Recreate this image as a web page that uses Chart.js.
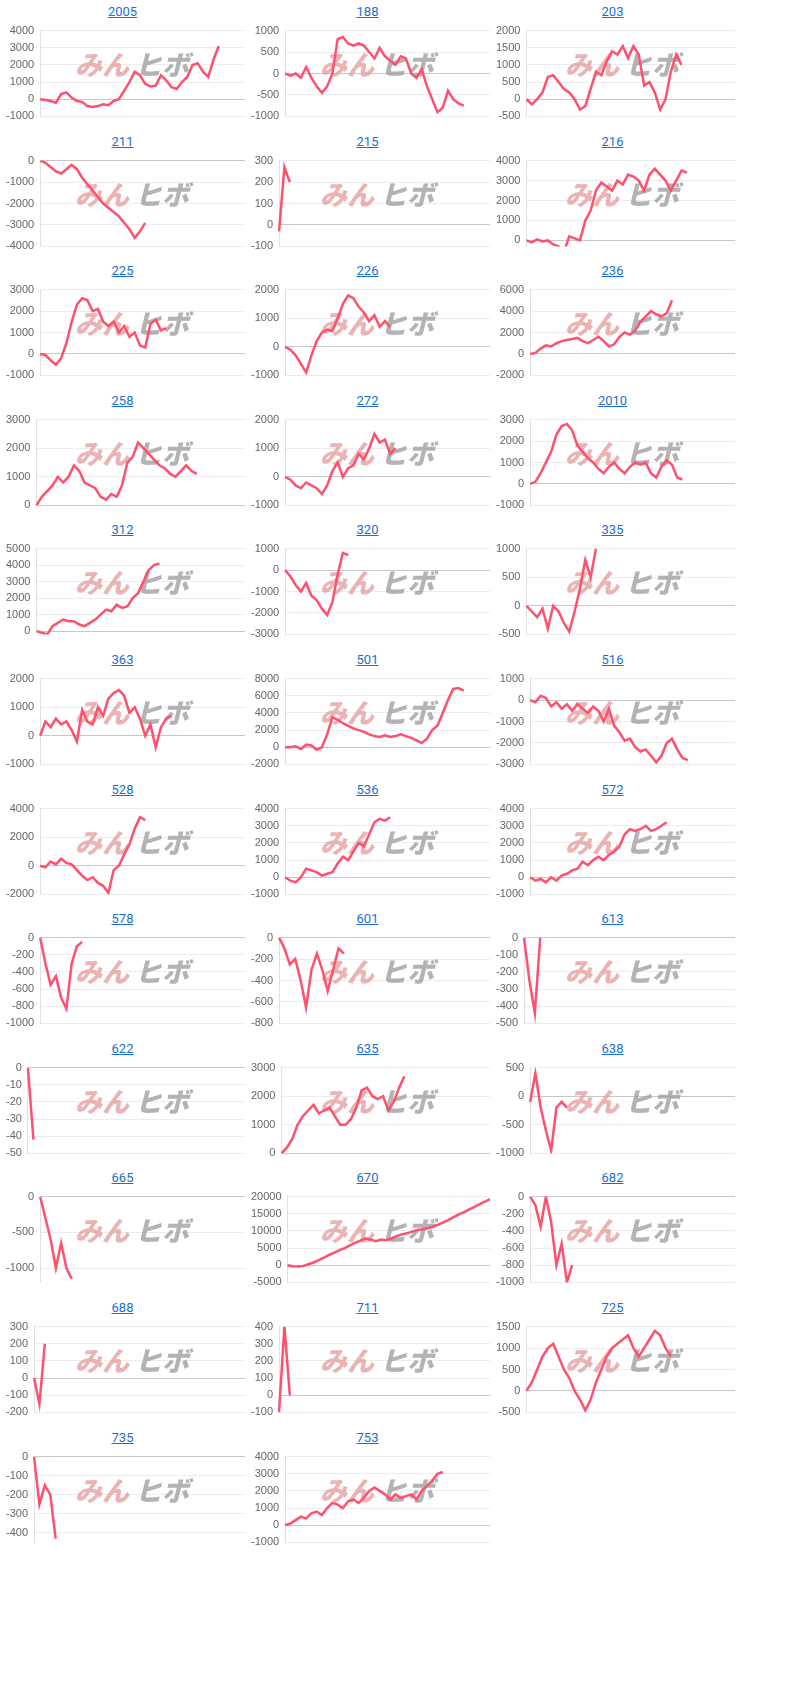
<!DOCTYPE html>
<html>
<head>
<meta charset="utf-8">
<script src="https://cdn.jsdelivr.net/npm/chart.js@4"></script>
<style>
body { margin: 0; background: #fff; font-family: Roboto, "Noto Sans", sans-serif; }
#grid { position: relative; width: 800px; height: 1699px; }
.cell { position: absolute; width: 245px; height: 129px; }
.cell a { position: absolute; left: 0; right: 0; top: 4px; text-align: center; color: #1a6fd4; font-size: 13px; text-decoration: underline; }
.cell .wrap { position: absolute; left: 0; top: 18px; width: 245px; height: 111px; }
</style>
</head>
<body>
<div id="grid"></div>
<script>
// Chart titles (fund codes)
const codes = ['2005','188','203','211','215','216','225','226','236','258','272','2010',
  '312','320','335','363','501','516','528','536','572','578','601','613',
  '622','635','638','665','670','682','688','711','725','735','753'];

// y-axis ranges [min, max, step]
const yRanges = [
  [-1000,4000,1000],[-1000,1000,500],[-500,2000,500],[-4000,0,1000],[-100,300,100],[-300,4000,1000],
  [-1000,3000,1000],[-1000,2000,1000],[-2000,6000,2000],[0,3000,1000],[-1000,2000,1000],[-1000,3000,1000],
  [-200,5000,1000],[-3000,1000,1000],[-500,1000,500],[-1000,2000,1000],[-2000,8000,2000],[-3000,1000,1000],
  [-2000,4000,2000],[-1000,4000,1000],[-1000,4000,1000],[-1000,0,200],[-800,0,200],[-500,0,100],
  [-50,0,10],[0,3000,1000],[-1000,500,500],[-1200,0,500],[-5000,20000,5000],[-1000,0,200],
  [-200,300,100],[-100,400,100],[-500,1500,500],[-450,0,100],[-1000,4000,1000]
];

// series values per chart (40 slots across each plot)
const s2005 = [0,-50,-100,-200,300,400,100,-100,-150,-400,-450,-400,-300,-350,-100,0,500,1000,1600,1400,900,750,800,1400,1100,700,600,1000,1300,2000,2100,1600,1300,2300,3100];
const s188 = [0,-50,0,-100,150,-100,-300,-450,-300,0,800,850,700,650,700,650,500,350,600,400,300,200,400,350,0,-100,100,-300,-600,-900,-800,-400,-600,-700,-750];
const s203 = [0,-150,0,200,650,700,500,300,200,0,-300,-200,300,800,700,1100,1400,1300,1550,1200,1550,1300,400,500,200,-300,0,800,1300,1000];
const s211 = [0,-100,-300,-500,-600,-400,-200,-400,-800,-1100,-1400,-1700,-2000,-2200,-2400,-2600,-2900,-3200,-3600,-3300,-2900];
const s215 = [-30,270,200];
const s216 = [0,-100,50,-50,0,-200,-300,-600,200,100,0,1000,1500,2500,2900,2700,2500,3000,2800,3300,3200,3000,2500,3300,3600,3300,3000,2500,3000,3500,3400];
const s225 = [0,-50,-300,-500,-200,500,1500,2300,2600,2500,2000,2100,1500,1300,1500,1000,1300,800,1000,400,300,1400,1600,1100,1200];
const s226 = [0,-100,-300,-600,-900,-300,200,500,600,550,1000,1500,1800,1700,1400,1200,900,1100,700,900,700];
const s236 = [0,100,500,800,700,1000,1200,1300,1400,1500,1200,1000,1300,1600,1200,700,900,1600,2000,1800,2200,3000,3500,4000,3700,3500,3800,5000];
const s258 = [0,300,500,700,1000,800,1000,1400,1200,800,700,600,300,200,400,300,700,1500,1700,2200,2000,1800,1600,1400,1300,1100,1000,1200,1400,1200,1100];
const s272 = [0,-100,-300,-400,-200,-300,-400,-600,-300,200,500,0,300,400,800,600,1000,1500,1200,1300,800,1000];
const s2010 = [0,100,500,1000,1500,2300,2700,2800,2500,1800,1500,1200,1000,700,500,800,1000,700,500,800,1000,900,1000,500,300,800,1100,900,300,200];
const s312 = [0,-100,-200,300,500,700,600,600,400,300,500,700,1000,1300,1200,1600,1400,1500,2000,2300,3000,3700,4000,4100];
const s320 = [0,-300,-700,-1000,-600,-1200,-1400,-1800,-2100,-1500,-200,800,700];
const s335 = [0,-100,-200,-50,-400,0,-100,-300,-450,-100,300,800,500,1000];
const s363 = [0,500,300,600,400,500,200,-200,900,500,400,1000,700,1300,1500,1600,1400,800,1000,600,0,400,-400,300,600,700];
const s501 = [0,0,100,-200,300,200,-300,0,1500,3500,3200,2800,2500,2200,2000,1800,1500,1300,1200,1400,1200,1300,1500,1300,1100,800,500,1000,2000,2500,4000,5500,6800,6900,6600];
const s516 = [0,-100,200,100,-300,-100,-400,-200,-500,-200,-400,-600,-300,-500,-1000,-400,-1200,-1500,-1900,-1800,-2200,-2400,-2300,-2600,-2900,-2600,-2000,-1800,-2300,-2700,-2800];
const s528 = [0,-100,300,100,500,200,100,-300,-700,-1000,-800,-1200,-1400,-1900,-300,0,800,1500,2600,3400,3200];
const s536 = [0,-200,-300,0,500,400,300,100,200,300,800,1200,1000,1500,2000,1800,2500,3200,3400,3300,3500];
const s572 = [0,-200,-100,-300,0,-200,100,200,400,500,900,700,1000,1200,1000,1300,1500,1800,2500,2800,2700,2800,3000,2700,2800,3000,3200];
const s578 = [0,-300,-550,-450,-700,-830,-300,-100,-50];
const s601 = [0,-100,-250,-200,-400,-650,-300,-150,-300,-500,-300,-100,-150];
const s613 = [0,-250,-440,0];
const s622 = [0,-42];
const s635 = [0,200,500,1000,1300,1500,1700,1400,1500,1600,1300,1000,1000,1200,1600,2200,2300,2000,1900,2000,1500,1800,2300,2700];
const s638 = [-100,400,-200,-600,-950,-200,-100,-200];
const s665 = [0,-300,-600,-1000,-650,-1000,-1150];
const s670 = [0,-300,-400,-200,300,800,1500,2200,3000,3700,4400,5000,5800,6500,7200,7800,7500,7000,7500,7300,7800,8500,9000,9300,9800,10300,10500,10800,11200,11800,12500,13200,14000,14800,15500,16300,17000,17800,18500,19300];
const s682 = [0,-100,-350,0,-300,-800,-550,-1000,-800];
const s688 = [0,-150,200];
const s711 = [-100,400,0];
const s725 = [0,200,500,800,1000,1100,800,500,300,0,-200,-450,-200,200,500,800,1000,1100,1200,1300,1000,800,1000,1200,1400,1300,1000,800];
const s735 = [0,-250,-150,-200,-430];
const s753 = [0,100,300,500,400,700,800,600,1000,1300,1200,1000,1400,1500,1300,1600,2000,2200,2000,1800,1500,1800,1600,1700,1800,1500,2000,2300,2600,3000,3100];

const series = [s2005,s188,s203,s211,s215,s216,s225,s226,s236,s258,s272,s2010,
  s312,s320,s335,s363,s501,s516,s528,s536,s572,s578,s601,s613,
  s622,s635,s638,s665,s670,s682,s688,s711,s725,s735,s753];

const SLOTS = 40;
const labels = Array.from({length: SLOTS}, (_, i) => i);

// Watermark "みんヒボ" under the line
const watermark = {
    id: 'watermark',
    beforeDatasetsDraw(chart) {
        const ctx = chart.ctx;
        const cx = 75;
        const cy = 47;
        ctx.save();
        ctx.font = 'italic 900 27px "Noto Sans CJK JP"';
        ctx.textBaseline = 'middle';
        ctx.fillStyle = 'rgba(230,160,160,0.8)';
        ctx.fillText('みん', cx, cy);
        ctx.fillStyle = 'rgba(160,160,160,0.8)';
        ctx.fillText('ヒボ', cx + 60, cy);
        ctx.restore();
    }
};

const grid = document.getElementById('grid');
const cols = [0, 245, 490];

series.forEach((data, i) => {
    const cell = document.createElement('div');
    cell.className = 'cell';
    cell.style.left = cols[i % 3] + 'px';
    cell.style.top = Math.round(Math.floor(i / 3) * 129.6) + 'px';
    const link = document.createElement('a');
    link.textContent = codes[i];
    cell.appendChild(link);
    const wrap = document.createElement('div');
    wrap.className = 'wrap';
    const canvas = document.createElement('canvas');
    wrap.appendChild(canvas);
    cell.appendChild(wrap);
    grid.appendChild(cell);

    const [min, max, step] = yRanges[i];
    new Chart(canvas, {
        type: 'line',
        data: {
            labels: labels,
            datasets: [{
                data: data,
                borderColor: 'rgb(255, 80, 110)',
                borderWidth: 2.5,
                pointRadius: 0,
                tension: 0
            }]
        },
        options: {
            animation: false,
            responsive: true,
            maintainAspectRatio: false,
            layout: { padding: { right: 0, bottom: 4 } },
            plugins: { legend: { display: false }, tooltip: { enabled: false } },
            scales: {
                x: { display: false },
                y: {
                    min: min, max: max,
                    afterBuildTicks: axis => {
                        const t = [];
                        for (let v = Math.ceil(min / step) * step; v <= max; v += step) t.push({ value: v });
                        axis.ticks = t;
                    },
                    ticks: { color: '#666', font: { size: 11 }, padding: 6, callback: v => String(v) },
                    grid: {
                        color: ctx => ctx.tick && ctx.tick.value === 0 ? '#c8c8c8' : '#ececec',
                        drawTicks: false
                    },
                    border: { color: '#e0e0e0' }
                }
            }
        },
        plugins: [watermark]
    });
});
</script>
</body>
</html>
